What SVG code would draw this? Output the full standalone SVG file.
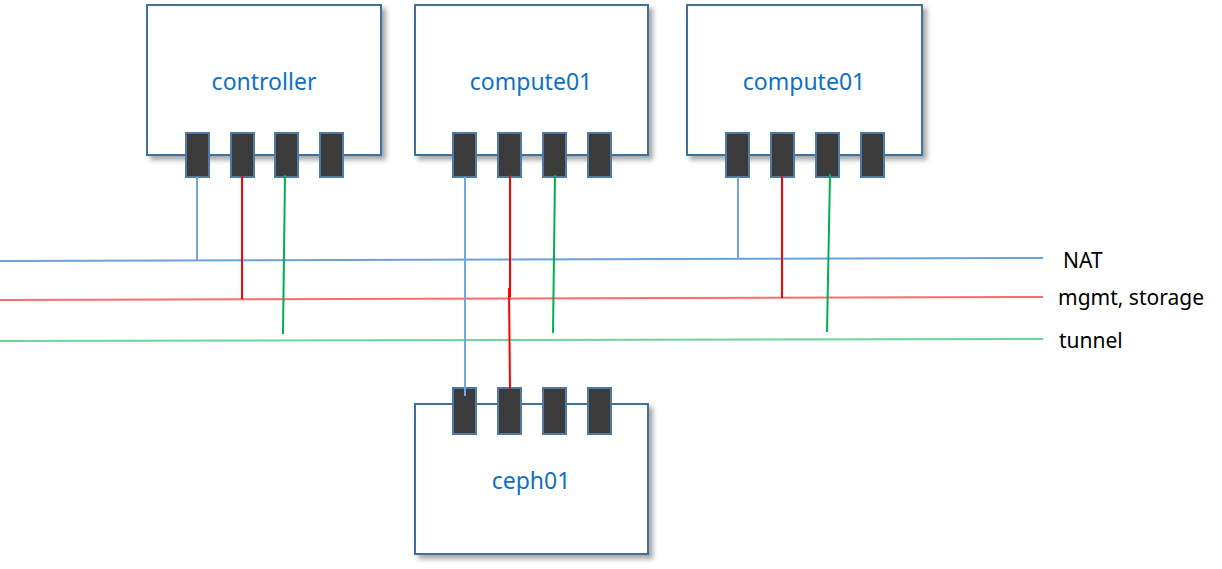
<svg xmlns="http://www.w3.org/2000/svg" width="1222" height="569" viewBox="0 0 1222 569">
<style>
.box{fill:#fff;stroke:#41719C;stroke-width:2;filter:url(#sh)}
.port{fill:#3b3b3b;stroke:#4f7aa6;stroke-width:2}
.lbl{font-family:"Noto Sans","Liberation Sans",sans-serif;font-size:23px;fill:#1070C0;text-anchor:middle}
.leg{font-family:"Noto Sans","Liberation Sans",sans-serif;font-size:21px;fill:#000}
.b{stroke:#6FA8DC;stroke-width:2;fill:none}
.r{stroke:#FF0000;stroke-width:2;fill:none}
.g{stroke:#00B050;stroke-width:2;fill:none}
.hb{stroke:#6AA2DC;stroke-width:2;fill:none}
.hr{stroke:#FF6A6A;stroke-width:2;fill:none}
.hg{stroke:#6FD39A;stroke-width:2;fill:none}
</style>
<defs>
<filter id="sh" x="-10%" y="-10%" width="130%" height="130%">
<feDropShadow dx="4" dy="4" stdDeviation="2.5" flood-color="#000" flood-opacity="0.35"/>
</filter>
</defs>
<rect width="1222" height="569" fill="#fff"/>
<g id="controller">
<rect class="box" x="147" y="5" width="234" height="150"/>
<text class="lbl" x="264" y="90">controller</text>
<rect class="port" x="186" y="133" width="23" height="44"/>
<rect class="port" x="231" y="133" width="23" height="44"/>
<rect class="port" x="275" y="133" width="23" height="44"/>
<rect class="port" x="320" y="133" width="23" height="44"/>
</g>
<g id="compute01-a">
<rect class="box" x="415" y="5" width="233" height="150"/>
<text class="lbl" x="531" y="90">compute01</text>
<rect class="port" x="453" y="133" width="23" height="44"/>
<rect class="port" x="498" y="133" width="23" height="44"/>
<rect class="port" x="543" y="133" width="23" height="44"/>
<rect class="port" x="588" y="133" width="23" height="44"/>
</g>
<g id="compute01-b">
<rect class="box" x="687" y="5" width="235" height="150"/>
<text class="lbl" x="804" y="90">compute01</text>
<rect class="port" x="726" y="133" width="23" height="44"/>
<rect class="port" x="771" y="133" width="23" height="44"/>
<rect class="port" x="816" y="133" width="23" height="44"/>
<rect class="port" x="861" y="133" width="23" height="44"/>
</g>
<g id="ceph01">
<rect class="box" x="415" y="404" width="233" height="150"/>
<text class="lbl" x="531" y="489">ceph01</text>
<rect class="port" x="453" y="388" width="23" height="46"/>
<rect class="port" x="498" y="388" width="23" height="46"/>
<rect class="port" x="543" y="388" width="23" height="46"/>
<rect class="port" x="588" y="388" width="23" height="46"/>
</g>
<g id="connectors">
<line class="hb" x1="0" y1="261" x2="1043" y2="258"/>
<line class="hr" x1="0" y1="300" x2="1043" y2="297"/>
<line class="hg" x1="0" y1="341" x2="1043" y2="339"/>
<line class="b" x1="197" y1="177" x2="197" y2="260"/>
<line class="r" x1="242" y1="176" x2="242" y2="299"/>
<line class="g" x1="285" y1="175" x2="283" y2="334"/>
<line class="b" x1="465" y1="177" x2="465" y2="396"/>
<line class="r" x1="510" y1="175" x2="510" y2="297"/>
<line class="r" x1="509" y1="288" x2="510" y2="389"/>
<line class="g" x1="555" y1="175" x2="553" y2="333"/>
<line class="b" x1="738" y1="177" x2="738" y2="260"/>
<line class="r" x1="782" y1="176" x2="782" y2="298"/>
<line class="g" x1="830" y1="174" x2="827" y2="332"/>
</g>
<g id="legend">
<text class="leg" x="1063" y="268">NAT</text>
<text class="leg" x="1058" y="305">mgmt, storage</text>
<text class="leg" x="1059" y="348">tunnel</text>
</g>
</svg>
